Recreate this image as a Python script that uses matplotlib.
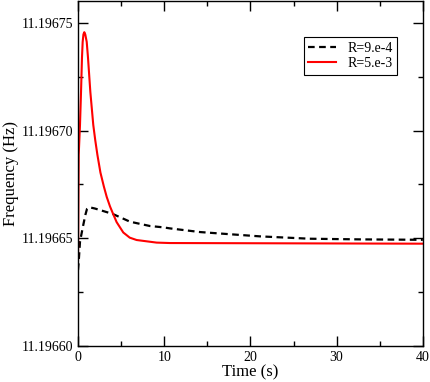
import numpy as np
import matplotlib
matplotlib.use('Agg')
import matplotlib.pyplot as plt
from matplotlib.ticker import MultipleLocator, FormatStrFormatter

plt.rcParams['font.family'] = ['Liberation Serif', 'DejaVu Serif']

# R=9.e-4 (black dashed)
t_black = [0.0, 0.08, 0.23, 0.54, 0.85, 1.04, 1.31, 1.97, 2.55, 4.02, 6.03, 8.34,
           9.85, 10.66, 14.14, 17.23, 21.09, 26.88, 32.68, 40.0]
f_black = [11.1966353, 11.1966391, 11.1966484, 11.1966548, 11.1966608, 11.1966636,
           11.1966644, 11.1966638, 11.1966631, 11.1966613, 11.1966577, 11.1966557,
           11.1966551, 11.1966546, 11.1966529, 11.1966520, 11.1966509, 11.1966498,
           11.1966495, 11.1966493]

# R=5.e-3 (red solid)
t_red = [0.0, 0.08, 0.23, 0.35, 0.46, 0.54, 0.63, 0.73, 0.84, 1.01, 1.16, 1.43, 1.77,
         2.0, 2.25, 2.6, 3.0, 3.33, 3.71, 4.02, 4.48, 5.25, 6.0, 6.80, 9.12, 10.66,
         21.09, 40.0]
f_red = [11.1966400, 11.1966887, 11.1967026, 11.1967179, 11.1967337, 11.1967411,
         11.1967446, 11.1967456, 11.1967446, 11.1967411, 11.1967337, 11.1967179,
         11.1967026, 11.1966955, 11.1966887, 11.1966805, 11.1966740, 11.1966692,
         11.1966648, 11.1966618, 11.1966575, 11.1966527, 11.1966503, 11.1966492,
         11.1966480, 11.1966478, 11.1966477, 11.1966475]

fig = plt.figure(figsize=(4.31, 3.82), dpi=100)
ax = fig.add_axes([0.181, 0.094, 0.800, 0.903])

ax.plot(t_black, f_black, color='black', lw=1.6, dashes=(3, 2), label='R=9.e-4')
ax.plot(t_red, f_red, color='red', lw=1.5, label='R=5.e-3')

ax.set_xlim(0, 40)
ax.set_ylim(11.19660, 11.19676)
ax.xaxis.set_major_locator(MultipleLocator(10))
ax.xaxis.set_minor_locator(MultipleLocator(5))
ax.yaxis.set_major_locator(MultipleLocator(0.00005))
ax.yaxis.set_minor_locator(MultipleLocator(0.000025))
ax.yaxis.set_major_formatter(FormatStrFormatter('%.5f'))
ax.tick_params(which='both', direction='in', top=True, right=True, labelsize=10, width=1)
ax.tick_params(which='major', length=7)
ax.tick_params(which='minor', length=3.5)
for s in ax.spines.values():
    s.set_linewidth(1)

ax.set_xlabel('Time (s)', fontsize=12, labelpad=0)
ax.set_ylabel('Frequency (Hz)', fontsize=12, labelpad=2)

leg = ax.legend(loc='upper right', bbox_to_anchor=(0.945, 0.915), fontsize=10,
                fancybox=False, framealpha=1, edgecolor='black', handlelength=2.0,
                borderpad=0.3, labelspacing=0.2, handletextpad=0.8)
leg.get_frame().set_linewidth(0.8)

fig.savefig('out.png', dpi=100)
